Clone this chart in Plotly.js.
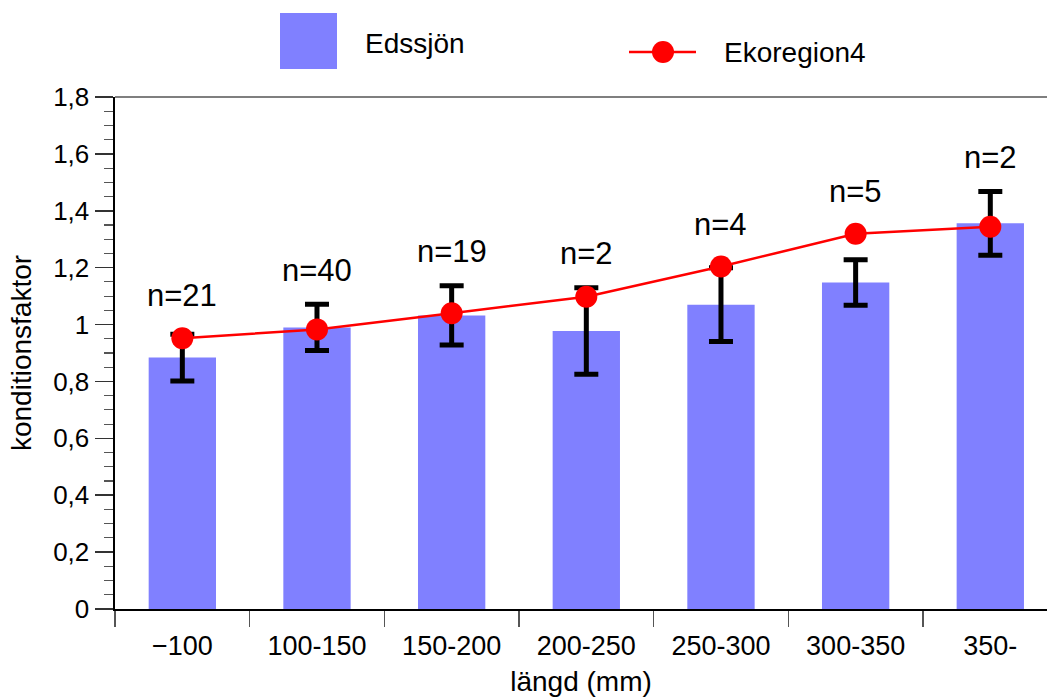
<!DOCTYPE html>
<html>
<head>
<meta charset="utf-8">
<script src="https://cdn.plot.ly/plotly-3.0.1.min.js"></script>
<style>
  html, body { margin: 0; padding: 0; background: #fff; }
  #chart { width: 1047px; height: 697px; }
</style>
</head>
<body>
<div id="chart"></div>
<script>
// Length classes (mm)
var lengthClasses = ['\u2212100', '100-150', '150-200', '200-250', '250-300', '300-350', '350-'];
// Mean condition factor, Edssjön
var edssjonMean = [0.884, 0.990, 1.032, 0.977, 1.070, 1.148, 1.356];
// Spread of condition factor, Edssjön
var edssjonErr = [0.082, 0.081, 0.104, 0.152, 0.130, 0.080, 0.112];
// Reference condition factor, Ekoregion 4
var ekoregion4 = [0.952, 0.983, 1.040, 1.098, 1.204, 1.319, 1.344];
// Number of fish per length class
var sampleSize = [21, 40, 19, 2, 4, 5, 2];

var FONT = 'Liberation Sans, Arial, Helvetica, sans-serif';

var barTrace = {
  type: 'bar',
  name: 'Edssjön',
  x: lengthClasses,
  y: edssjonMean,
  width: 0.5,
  marker: { color: '#8080ff', line: { width: 0 } },
  error_y: {
    type: 'data',
    array: edssjonErr,
    visible: true,
    color: '#000000',
    thickness: 5,
    width: 12
  },
  hoverinfo: 'x+y'
};

var lineTrace = {
  type: 'scatter',
  mode: 'lines+markers',
  name: 'Ekoregion4',
  x: lengthClasses,
  y: ekoregion4,
  line: { color: '#ff0000', width: 2.5 },
  marker: { color: '#ff0000', size: 22 }
};

// "n=" labels above each class, placed over the higher of error bar and reference point
var nLabels = lengthClasses.map(function (c, i) {
  var top = Math.max(edssjonMean[i] + edssjonErr[i], ekoregion4[i] + 0.03);
  return {
    x: c, y: top, xref: 'x', yref: 'y',
    text: 'n=' + sampleSize[i],
    showarrow: false,
    yanchor: 'middle',
    yshift: 34,
    font: { family: FONT, size: 31, color: '#000' }
  };
});

// Hand-built legend at the top of the figure
function px2x(px) { return (px - 115) / 932; }
function px2y(py) { return (609 - py) / 512; }

var legendShapes = [
  { type: 'rect', xref: 'paper', yref: 'paper',
    x0: px2x(280), x1: px2x(337), y0: px2y(69), y1: px2y(13),
    fillcolor: '#8080ff', line: { width: 0 } },
  { type: 'line', xref: 'paper', yref: 'paper',
    x0: px2x(629), x1: px2x(696), y0: px2y(52), y1: px2y(52),
    line: { color: '#ff0000', width: 2.5 } },
  { type: 'circle', xref: 'paper', yref: 'paper',
    xsizemode: 'pixel', ysizemode: 'pixel',
    xanchor: px2x(663), yanchor: px2y(52),
    x0: -11, x1: 11, y0: -11, y1: 11,
    fillcolor: '#ff0000', line: { width: 0 } },
  // thin frame line along the top of the plot area
  { type: 'line', xref: 'paper', yref: 'paper',
    x0: 0, x1: 1, y0: 1, y1: 1,
    line: { color: '#555555', width: 1.5 } }
];

var legendText = [
  { xref: 'paper', yref: 'paper', x: px2x(363), y: px2y(43),
    xanchor: 'left', yanchor: 'middle', showarrow: false,
    text: 'Edssjön', font: { family: FONT, size: 28, color: '#000' } },
  { xref: 'paper', yref: 'paper', x: px2x(722), y: px2y(52),
    xanchor: 'left', yanchor: 'middle', showarrow: false,
    text: 'Ekoregion4', font: { family: FONT, size: 28, color: '#000' } }
];

var layout = {
  width: 1047,
  height: 697,
  margin: { l: 115, r: 0, t: 97, b: 88 },
  paper_bgcolor: '#ffffff',
  plot_bgcolor: '#ffffff',
  separators: ', ',
  showlegend: false,
  font: { family: FONT, size: 26, color: '#000' },
  xaxis: {
    type: 'category',
    range: [-0.5, 6.421],
    tickson: 'boundaries',
    ticks: 'outside',
    ticklen: 16,
    tickwidth: 1.5,
    tickcolor: '#555555',
    ticklabelstandoff: 12,
    showgrid: false,
    zeroline: false,
    showline: true,
    linecolor: '#000000',
    linewidth: 2,
    tickfont: { family: FONT, size: 27, color: '#000' },
    title: { text: 'längd (mm)', font: { family: FONT, size: 28, color: '#000' }, standoff: 14 },
    automargin: false
  },
  yaxis: {
    range: [0, 1.8],
    dtick: 0.2,
    tick0: 0,
    ticks: 'outside',
    ticklen: 18,
    tickwidth: 1.5,
    tickcolor: '#333333',
    minor: { dtick: 0.05, ticks: 'outside', ticklen: 9, tickwidth: 1.2, tickcolor: '#555555' },
    showgrid: false,
    zeroline: false,
    showline: true,
    linecolor: '#000000',
    linewidth: 2.5,
    tickfont: { family: FONT, size: 26, color: '#000' },
    title: { text: 'konditionsfaktor', font: { family: FONT, size: 28, color: '#000' }, standoff: 14 },
    automargin: false
  },
  shapes: legendShapes,
  annotations: nLabels.concat(legendText)
};

Plotly.newPlot('chart', [barTrace, lineTrace], layout, { displayModeBar: false, staticPlot: true });
</script>
</body>
</html>
